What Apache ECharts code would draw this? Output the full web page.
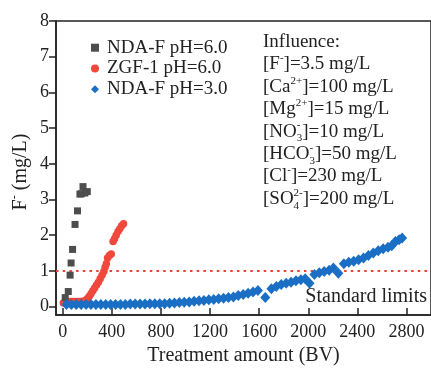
<!DOCTYPE html>
<html>
<head>
<meta charset="utf-8">
<script src="https://cdn.jsdelivr.net/npm/echarts@6/dist/echarts.min.js"></script>
<style>
  html, body { margin: 0; padding: 0; background: #fff; }
  #chart { width: 431px; height: 371px; }
</style>
</head>
<body>
<div id="chart"></div>
<script>
// Fluoride breakthrough: effluent F- (mg/L) versus treatment amount (BV)
const ndaF60 = [
  [20, 0.25], [45, 0.42], [60, 0.88], [68, 1.22], [80, 1.60], [100, 2.30],
  [120, 2.68], [140, 3.15], [152, 3.16], [165, 3.36], [180, 3.18], [200, 3.22]
];
const zgf60 = [
  [5, 0.10], [25, 0.13], [45, 0.14], [65, 0.14], [85, 0.14], [105, 0.14],
  [125, 0.14], [145, 0.14], [165, 0.15], [185, 0.17], [200, 0.22], [215, 0.28],
  [230, 0.36], [245, 0.44], [260, 0.52], [275, 0.60], [290, 0.68], [305, 0.78],
  [320, 0.88], [335, 0.98], [345, 1.10], [355, 1.20], [365, 1.36], [380, 1.43],
  [395, 1.47], [410, 1.82], [422, 1.90], [435, 2.00], [450, 2.10], [465, 2.18],
  [480, 2.26], [495, 2.32]
];
const ndaF30 = [
  [30, 0.06], [70, 0.06], [110, 0.06], [150, 0.06], [190, 0.06], [230, 0.06],
  [270, 0.06], [310, 0.06], [350, 0.06], [390, 0.06], [430, 0.06], [470, 0.06],
  [510, 0.06], [550, 0.07], [590, 0.07], [630, 0.07], [670, 0.07], [710, 0.08],
  [750, 0.08], [790, 0.08], [830, 0.08], [870, 0.09], [910, 0.10], [950, 0.11],
  [990, 0.12], [1030, 0.13], [1070, 0.15], [1110, 0.16], [1150, 0.17], [1190, 0.19],
  [1230, 0.20], [1270, 0.22], [1310, 0.23], [1350, 0.25], [1390, 0.27], [1430, 0.31],
  [1470, 0.34], [1510, 0.37], [1550, 0.41], [1590, 0.45], [1650, 0.25], [1700, 0.50],
  [1740, 0.56], [1780, 0.62], [1820, 0.65], [1860, 0.68], [1900, 0.72], [1940, 0.75],
  [1975, 0.78], [2010, 0.65], [2050, 0.90], [2090, 0.95], [2130, 0.98], [2170, 1.02],
  [2205, 1.08], [2245, 0.93], [2290, 1.20], [2330, 1.24], [2370, 1.27], [2410, 1.31],
  [2450, 1.36], [2490, 1.43], [2530, 1.50], [2570, 1.56], [2610, 1.62], [2650, 1.66],
  [2680, 1.70], [2710, 1.82], [2740, 1.87], [2765, 1.92]
];
const seriesNames = ['NDA-F pH=6.0', 'ZGF-1 pH=6.0', 'NDA-F pH=3.0'];
const xTicks = [0, 400, 800, 1200, 1600, 2000, 2400, 2800];
const yTicks = [0, 1, 2, 3, 4, 5, 6, 7, 8];
const standardLimit = 1;
const standardLabel = 'Standard limits';
const xAxisTitle = 'Treatment amount (BV)';
const yAxisTitle = 'F^{-} (mg/L)';
const noteLines = [
  'Influence:',
  '[F^{-}]=3.5 mg/L',
  '[Ca^{2+}]=100 mg/L',
  '[Mg^{2+}]=15 mg/L',
  '[NO_{3}^{-}]=10 mg/L',
  '[HCO_{3}^{-}]=50 mg/L',
  '[Cl^{-}]=230 mg/L',
  '[SO_{4}^{2-}]=200 mg/L'
];

const FONT = '"Liberation Serif", "DejaVu Serif", serif';
const INK = '#222';

// Measure text with a scratch canvas so sub/superscripts can be placed by hand
const measureCtx = document.createElement('canvas').getContext('2d');
function textWidth(t, size) {
  measureCtx.font = size + 'px ' + FONT;
  return measureCtx.measureText(t).width;
}

// Turns "NO_{3}^{-}" style markup into positioned text pieces (stacked when sub+sup)
function richPieces(str, size, small) {
  const tokens = str.match(/(\^\{[^}]*\}|_\{[^}]*\}|[^^_]+)/g) || [];
  const pieces = [];
  let x = 0;
  const piece = (t, px, py, fs) => ({
    type: 'text', x: px, y: py, silent: true,
    style: { text: t, font: fs + 'px ' + FONT, fill: INK, align: 'left', verticalAlign: 'middle' }
  });
  for (let i = 0; i < tokens.length; i++) {
    const tk = tokens[i];
    if (tk[0] === '_' && tokens[i + 1] && tokens[i + 1][0] === '^') {
      const sub = tk.slice(2, -1), sup = tokens[i + 1].slice(2, -1);
      pieces.push(piece(sub, x, size * 0.36, small));
      pieces.push(piece(sup, x, -size * 0.32, small));
      x += Math.max(textWidth(sub, small), textWidth(sup, small));
      i++;
    } else if (tk[0] === '^') {
      const s = tk.slice(2, -1);
      pieces.push(piece(s, x, -size * 0.32, small));
      x += textWidth(s, small);
    } else if (tk[0] === '_') {
      const s = tk.slice(2, -1);
      pieces.push(piece(s, x, size * 0.36, small));
      x += textWidth(s, small);
    } else {
      pieces.push(piece(tk, x, 0, size));
      x += textWidth(tk, size);
    }
  }
  return { pieces, width: x };
}

const graphics = [];
// Influent composition note
noteLines.forEach((line, i) => {
  const r = richPieces(line, 19, 11);
  graphics.push({ type: 'group', x: 263, y: 42 + i * 22.4, children: r.pieces });
});
// Vertical y-axis title with superscript minus
const yt = richPieces(yAxisTitle, 20, 12);
yt.pieces.forEach(p => { p.x -= yt.width / 2; });
graphics.push({ type: 'group', x: 21, y: 172, rotation: Math.PI / 2, children: yt.pieces });

const chart = echarts.init(document.getElementById('chart'), null, { renderer: 'canvas' });
const axisLineStyle = { color: INK, width: 1.5 };
const plainNumber = v => String(v);

chart.setOption({
  animation: false,
  backgroundColor: '#fff',
  grid: {
    left: 56, top: 21, right: -1.5, bottom: 45.3,
    show: true, borderColor: INK, borderWidth: 1.5, backgroundColor: 'transparent'
  },
  legend: {
    orient: 'vertical', left: 91, top: 37.7, padding: 0,
    itemWidth: 8, itemHeight: 8, itemGap: 0.8,
    textStyle: { fontFamily: FONT, fontSize: 19, color: INK, lineHeight: 20, padding: [0, 0, 0, 3] },
    data: [
      { name: seriesNames[0], icon: 'rect' },
      { name: seriesNames[1], icon: 'circle' },
      { name: seriesNames[2], icon: 'diamond' }
    ]
  },
  xAxis: {
    type: 'value', min: -55, max: 3000,
    name: xAxisTitle, nameLocation: 'middle', nameGap: 25,
    nameTextStyle: { fontFamily: FONT, fontSize: 20, color: INK },
    axisLine: { show: true, onZero: false, lineStyle: axisLineStyle },
    axisTick: { show: true, inside: true, length: 7, customValues: xTicks, lineStyle: axisLineStyle },
    axisLabel: { customValues: xTicks, formatter: plainNumber, fontFamily: FONT, fontSize: 18, color: INK, margin: 8 },
    splitLine: { show: false }
  },
  yAxis: {
    type: 'value', min: -0.24, max: 8,
    axisLine: { show: true, onZero: false, lineStyle: axisLineStyle },
    axisTick: { show: true, inside: false, length: 7, customValues: yTicks, lineStyle: axisLineStyle },
    axisLabel: { customValues: yTicks, formatter: plainNumber, fontFamily: FONT, fontSize: 18, color: INK, margin: 7 },
    splitLine: { show: false }
  },
  graphic: graphics,
  series: [
    {
      name: seriesNames[1], type: 'scatter', data: zgf60, z: 2,
      symbol: 'circle', symbolSize: 7.5,
      itemStyle: { color: '#f0483c', opacity: 1 }
    },
    {
      name: seriesNames[0], type: 'scatter', data: ndaF60, z: 3,
      symbol: 'rect', symbolSize: 7,
      itemStyle: { color: '#4d4d4d', opacity: 1 }
    },
    {
      name: seriesNames[2], type: 'scatter', data: ndaF30, z: 4,
      symbol: 'diamond', symbolSize: [10, 11],
      itemStyle: { color: '#1a6ec4', opacity: 1 },
      markLine: {
        silent: true, symbol: 'none', z: 1,
        lineStyle: { color: '#ee4035', type: [2.5, 4.2], width: 1.8 },
        label: {
          show: true, position: 'insideEndBottom', formatter: standardLabel,
          fontFamily: FONT, fontSize: 20, color: INK, distance: 4,
          padding: [12, 0, 0, 0]
        },
        data: [{ yAxis: standardLimit }]
      }
    }
  ]
});
</script>
</body>
</html>
